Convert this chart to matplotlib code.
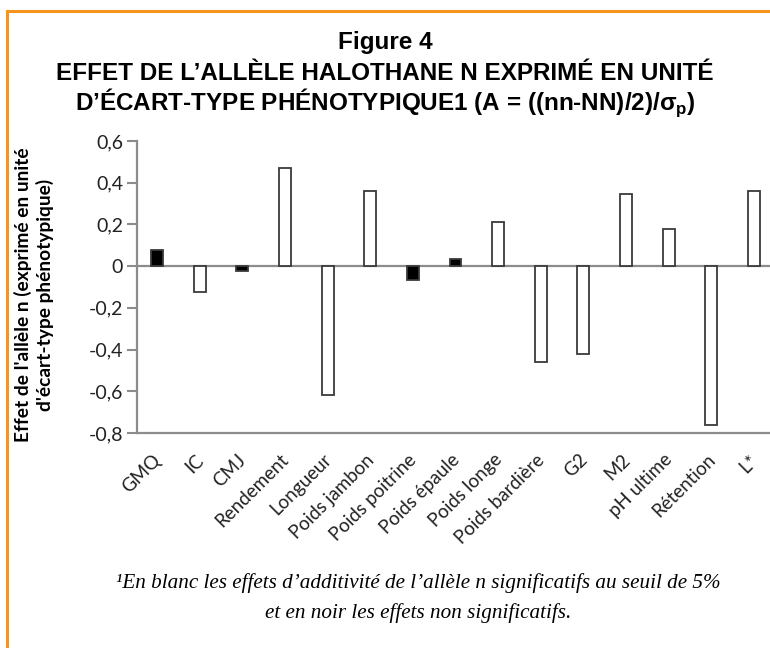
import matplotlib
matplotlib.use("Agg")
import matplotlib.pyplot as plt
from matplotlib.lines import Line2D
from matplotlib.transforms import ScaledTranslation

# Données
categories = ["GMQ", "IC", "CMJ", "Rendement", "Longueur", "Poids jambon",
              "Poids poitrine", "Poids épaule", "Poids longe", "Poids bardière",
              "G2", "M2", "pH ultime", "Rétention", "L*"]
effets = [0.075, -0.125, -0.025, 0.47, -0.62, 0.36, -0.065, 0.035,
          0.21, -0.46, -0.42, 0.345, 0.18, -0.76, 0.36]
significatif = [False, True, False, True, True, True, False, False,
                True, True, True, True, True, True, True]
yticks = [-0.8, -0.6, -0.4, -0.2, 0.0, 0.2, 0.4, 0.6]
ytick_labels = ["-0,8", "-0,6", "-0,4", "-0,2", "0", "0,2", "0,4", "0,6"]

plt.rcParams['mathtext.fontset'] = 'custom'
plt.rcParams['mathtext.rm'] = 'Liberation Sans:bold'

fig = plt.figure(figsize=(7.7, 6.48), dpi=100)
ax = fig.add_axes([137 / 770, 1 - 433 / 648, (774 - 137) / 770, (433 - 141) / 648])

gris = "#8c8c8c"
x = list(range(len(categories)))
couleurs = ["white" if s else "black" for s in significatif]
ax.bar(x, effets, width=0.28, color=couleurs, edgecolor="#3a3a3a", linewidth=1.3, zorder=3)
ax.axhline(0, color=gris, linewidth=1.6, zorder=2)

ax.set_xlim(-0.47, len(categories) - 0.53)
ax.set_ylim(-0.8, 0.6)
ax.set_yticks(yticks)
ax.set_yticklabels(ytick_labels, fontfamily="Lato", fontsize=14, color="#222222")
ax.set_xticks(x)
ax.set_xticklabels(categories, rotation=45, ha="right", rotation_mode="anchor",
                   fontfamily="Lato", fontsize=13.5, color="#222222")
ax.tick_params(axis="x", length=0, pad=13)
ax.tick_params(axis="y", length=7, width=1.5, color=gris, pad=3)

# léger décalage des étiquettes vers la gauche
decal = ScaledTranslation(-5 / 100, 0, fig.dpi_scale_trans)
for lab in ax.get_xticklabels():
    lab.set_transform(lab.get_transform() + decal)

for s in ["top", "right"]:
    ax.spines[s].set_visible(False)
for s in ["left", "bottom"]:
    ax.spines[s].set_color(gris)
    ax.spines[s].set_linewidth(1.6)

fig.text(34 / 770, 1 - 295 / 648,
         "Effet de l'allèle n (exprimé en unité\nd'écart-type phénotypique)",
         rotation=90, ha="center", va="center", ma="center",
         fontfamily="Lato", fontweight="bold", fontsize=13.8, linespacing=1.3)

# Titre
titre_font = "Liberation Sans"
fig.text(0.5, 1 - 42 / 648, "Figure 4", ha="center", va="center",
         fontfamily=titre_font, fontweight="bold", fontsize=17.5)
fig.text(0.5, 1 - 73 / 648, "EFFET DE L’ALLÈLE HALOTHANE N EXPRIMÉ EN UNITÉ",
         ha="center", va="center", fontfamily=titre_font, fontweight="bold", fontsize=17.5)
fig.text(0.5, 1 - 103 / 648,
         "D’ÉCART-TYPE PHÉNOTYPIQUE1 (A = ((nn-NN)/2)/σ$_{\\mathrm{p}}$)",
         ha="center", va="center", fontfamily=titre_font, fontweight="bold", fontsize=17.5)

# Note
fig.text(0.543, 1 - 583 / 648,
         "¹En blanc les effets d’additivité de l’allèle n significatifs au seuil de 5%",
         ha="center", va="center", fontfamily="Liberation Serif", fontstyle="italic", fontsize=15.2)
fig.text(0.543, 1 - 613 / 648, "et en noir les effets non significatifs.",
         ha="center", va="center", fontfamily="Liberation Serif", fontstyle="italic", fontsize=15.2)

# Cadre orange
orange = "#f7941d"
fig.add_artist(Line2D([7 / 770, 1.0], [1 - 11 / 648, 1 - 11 / 648], color=orange, linewidth=2.2))
fig.add_artist(Line2D([7 / 770, 7 / 770], [1 - 11 / 648, 0.0], color=orange, linewidth=2.2))

fig.savefig("out.png", dpi=100)
